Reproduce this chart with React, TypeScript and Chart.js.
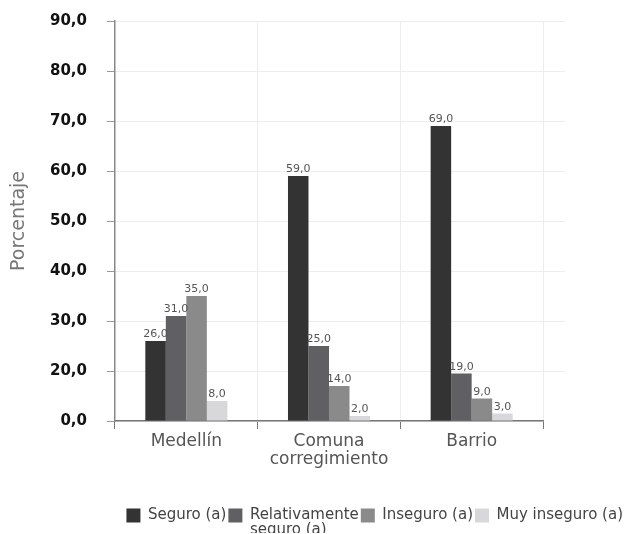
import React, { useEffect, useRef } from 'react';
import { Chart, registerables, LinearScale } from 'chart.js';

const CATEGORIES: (string | string[])[] = ['Medellín', ['Comuna', 'corregimiento'], 'Barrio'];
const SERIES_LABELS = ['Seguro (a)', 'Relativamente\nseguro (a)', 'Inseguro (a)', 'Muy inseguro (a)'];
const SEGURO = [26, 59, 69];
const RELATIVAMENTE_SEGURO = [31, 25, 19];
const INSEGURO = [35, 14, 9];
const MUY_INSEGURO = [8, 2, 3];
const Y_TICKS = [0, 20, 30, 40, 50, 60, 70, 80, 90];
const Y_TITLE = 'Porcentaje';

const COLORS = ['#333333', '#605f61', '#8a8a8a', '#d8d8da'];
const FAMILY = '"DejaVu Sans", sans-serif';
const GRID = '#ededed';

const fmt = (v: number) => Number(v).toFixed(1).replace('.', ',');

// The reference axis places its tick labels at equal spacing (0, 20, 30, ... 90).
function valueToDecimal(v: number): number {
  const n = Y_TICKS.length - 1;
  if (v <= Y_TICKS[0]) return 0;
  for (let i = 0; i < n; i++) {
    const a = Y_TICKS[i];
    const b = Y_TICKS[i + 1];
    if (v <= b) return (i + (v - a) / (b - a)) / n;
  }
  return 1;
}
function decimalToValue(d: number): number {
  const n = Y_TICKS.length - 1;
  const pos = Math.max(0, Math.min(n, d * n));
  const i = Math.min(n - 1, Math.floor(pos));
  const a = Y_TICKS[i];
  const b = Y_TICKS[i + 1];
  return a + (pos - i) * (b - a);
}

class TickIndexScale extends LinearScale {
  static id = 'tickindex';
  static defaults = { ticks: { callback: (v: number) => fmt(v) } };
  buildTicks() {
    return Y_TICKS.map((value) => ({ value }));
  }
  getPixelForValue(value: any) {
    if (value === null || value === undefined || isNaN(value)) return NaN;
    return (this as any).getPixelForDecimal(valueToDecimal(value));
  }
  getValueForPixel(pixel: number) {
    return decimalToValue((this as any).getDecimalForPixel(pixel));
  }
}

Chart.register(...registerables, TickIndexScale as any);

// multi-line legend text whose measured width is its longest line
function multiLine(text: string): any {
  if (!text.includes('\n')) return text;
  const lines: any = text.split('\n');
  const longest = lines.reduce((a: string, b: string) => (a.length >= b.length ? a : b));
  lines.toString = () => longest;
  return lines;
}

const valueLabels = {
  id: 'valueLabels',
  afterDatasetsDraw(chart: any) {
    const ctx = chart.ctx;
    ctx.save();
    ctx.font = '11px ' + FAMILY;
    ctx.fillStyle = '#555555';
    ctx.textAlign = 'center';
    ctx.textBaseline = 'bottom';
    chart.data.datasets.forEach((ds: any, di: number) => {
      chart.getDatasetMeta(di).data.forEach((el: any, i: number) => {
        ctx.fillText(fmt(ds.data[i]), el.x, el.y - 1);
      });
    });
    ctx.restore();
  },
};

const gridExtend = {
  id: 'gridExtend',
  beforeDatasetsDraw(chart: any) {
    const ctx = chart.ctx;
    const y = chart.scales.y;
    const right = chart.chartArea.right;
    ctx.save();
    ctx.strokeStyle = GRID;
    ctx.lineWidth = 1;
    y.ticks.forEach((_t: any, i: number) => {
      if (i === 0) return;
      const py = Math.round(y.getPixelForTick(i)) + 0.5;
      ctx.beginPath();
      ctx.moveTo(right, py);
      ctx.lineTo(right + 22, py);
      ctx.stroke();
    });
    ctx.restore();
  },
};

export default function App() {
  const ref = useRef<HTMLCanvasElement>(null);
  useEffect(() => {
    if (!ref.current) return;
    const series = [SEGURO, RELATIVAMENTE_SEGURO, INSEGURO, MUY_INSEGURO];
    const chart = new Chart(ref.current, {
      type: 'bar',
      data: {
        labels: CATEGORIES as any,
        datasets: series.map((d, i) => ({
          label: SERIES_LABELS[i],
          data: d,
          backgroundColor: COLORS[i],
          borderWidth: 0,
          categoryPercentage: 0.575,
          barPercentage: 1.0,
        })),
      },
      options: {
        animation: false,
        responsive: true,
        maintainAspectRatio: false,
        layout: { padding: { top: 21, right: 0, bottom: 1, left: 0 } },
        plugins: {
          tooltip: { enabled: false },
          legend: {
            position: 'bottom',
            align: 'end',
            labels: {
              boxWidth: 14,
              boxHeight: 14,
              padding: 2,
              color: '#444444',
              font: { family: FAMILY, size: 15, lineHeight: 0.95 },
              generateLabels: (c: any) =>
                (Chart.defaults.plugins.legend.labels.generateLabels as any)(c).map((it: any) => ({
                  ...it,
                  lineWidth: 0,
                  text: multiLine(it.text),
                })),
            },
          },
        },
        scales: {
          x: {
            grid: { color: GRID, tickColor: '#777777', tickLength: 8, offset: true },
            border: { color: '#777777', width: 1.5 },
            ticks: {
              color: '#555555',
              font: { family: FAMILY, size: 17, lineHeight: 1.05 },
              padding: 4,
              maxRotation: 0,
            },
            afterFit: (s: any) => {
              s.height = 85;
            },
          },
          y: {
            type: 'tickindex' as any,
            min: 0,
            max: 90,
            position: 'left',
            grid: { color: GRID, tickColor: '#999999', tickLength: 8 },
            border: { color: '#888888', width: 1.5 },
            ticks: {
              color: '#111111',
              font: { family: FAMILY, size: 15, weight: 'bold' },
              padding: 20,
              callback: (v: any) => fmt(v),
            },
            title: {
              display: true,
              text: Y_TITLE,
              color: '#777777',
              font: { family: FAMILY, size: 19 },
              padding: { top: 8, bottom: 0 },
            },
            afterFit: (s: any) => {
              s.width = 115;
              s.paddingTop = 0;
              s.paddingBottom = 0;
            },
          } as any,
          yR: {
            type: 'linear',
            position: 'right',
            display: true,
            grid: { display: false },
            border: { display: false },
            ticks: { display: false },
            afterFit: (s: any) => {
              s.width = 82;
            },
          },
        },
      },
      plugins: [gridExtend, valueLabels],
    });
    return () => chart.destroy();
  }, []);
  return (
    <div style={{ position: 'fixed', left: 0, top: 0, width: 625, height: 534 }}>
      <canvas ref={ref} />
    </div>
  );
}
